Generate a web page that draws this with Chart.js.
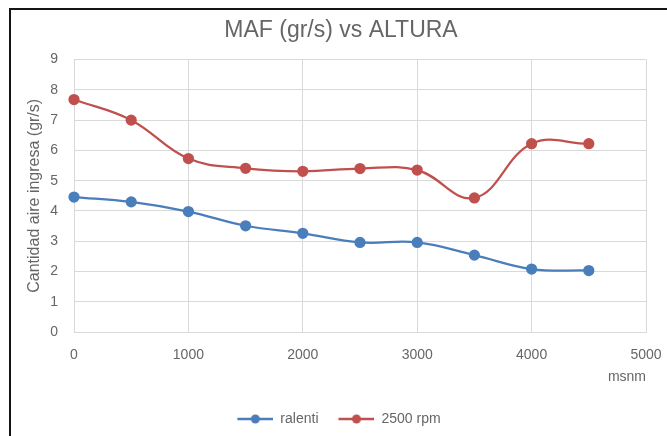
<!DOCTYPE html>
<html>
<head>
<meta charset="utf-8">
<script src="https://cdn.jsdelivr.net/npm/chart.js@4"></script>
<style>
  html, body { margin:0; padding:0; background:#fff; }
  #wrap { position:relative; width:667px; height:436px; }
  #frame { position:absolute; left:9px; top:8px; right:-4px; bottom:-4px; border-left:2px solid #151515; border-top:2px solid #151515; }
  #chart { position:absolute; left:0; top:0; }
</style>
</head>
<body>
<div id="wrap">
  <div id="frame"></div>
  <canvas id="chart" width="667" height="436"></canvas>
</div>
<script>
// --- DATOS ---
const altura = [0, 500, 1000, 1500, 2000, 2500, 3000, 3500, 4000, 4500];
const ralenti = [4.46, 4.30, 3.98, 3.51, 3.26, 2.96, 2.96, 2.54, 2.08, 2.03];
const rpm2500 = [7.68, 7.00, 5.73, 5.41, 5.31, 5.40, 5.35, 4.43, 6.22, 6.22];
const xTicks = [0, 1000, 2000, 3000, 4000, 5000];
const yTicks = [0, 1, 2, 3, 4, 5, 6, 7, 8, 9];

const BLUE = '#4a7ebb';
const RED = '#c0504d';
const TXT = '#666666';
const GRID = '#d9d9d9';
const FONT = 'Liberation Sans';

// icono de leyenda: linea + circulo (con margen transparente a la izquierda)
function legendIcon(color) {
  const c = document.createElement('canvas');
  c.width = 46; c.height = 10;
  const g = c.getContext('2d');
  g.strokeStyle = color; g.lineWidth = 2.5;
  g.beginPath(); g.moveTo(10, 5); g.lineTo(46, 5); g.stroke();
  g.fillStyle = color;
  g.beginPath(); g.arc(28, 5, 4.5, 0, Math.PI * 2); g.fill();
  return c;
}

// desplaza titulo y leyenda hacia la derecha como en el original
const shiftBoxes = {
  id: 'shiftBoxes',
  afterLayout(chart) {
    const mv = (box, dx) => { if (box) { box.left += dx; box.right += dx; } };
    mv(chart.titleBlock, 18);
    mv(chart.legend, 11);
  }
};

const toXY = (vals) => vals.map((v, i) => ({ x: altura[i], y: v }));

new Chart(document.getElementById('chart'), {
  type: 'line',
  data: {
    datasets: [
      { label: 'ralenti', data: toXY(ralenti), borderColor: BLUE, backgroundColor: BLUE, clip: false,
        borderWidth: 2.25, pointRadius: 4.5, pointHoverRadius: 4.5, tension: 0.4, icon: legendIcon(BLUE) },
      { label: '2500 rpm', data: toXY(rpm2500), borderColor: RED, backgroundColor: RED, clip: false,
        borderWidth: 2.25, pointRadius: 4.5, pointHoverRadius: 4.5, tension: 0.4, icon: legendIcon(RED) }
    ]
  },
  plugins: [shiftBoxes],
  options: {
    responsive: false,
    animation: false,
    layout: { padding: { left: 0, right: 21, top: 0, bottom: 0 } },
    plugins: {
      title: {
        display: true, text: 'MAF (gr/s) vs ALTURA', color: TXT,
        font: { family: FONT, size: 23, weight: 'normal' },
        padding: { top: 17, bottom: 15 }
      },
      legend: {
        position: 'bottom',
        labels: {
          color: TXT, font: { family: FONT, size: 14 },
          usePointStyle: true, pointStyleWidth: 46, padding: 10,
          generateLabels: (chart) => chart.data.datasets.map((ds, i) => ({
            text: ds.label, pointStyle: ds.icon, fillStyle: ds.borderColor,
            strokeStyle: ds.borderColor, lineWidth: 0, datasetIndex: i, fontColor: TXT
          }))
        }
      },
      tooltip: { enabled: false }
    },
    scales: {
      x: {
        type: 'linear', min: 0, max: 5000,
        afterBuildTicks: (s) => { s.ticks = xTicks.map(v => ({ value: v })); },
        afterFit: (s) => { s.height = 70; s.paddingLeft = 0; s.paddingRight = 0; },
        grid: { color: GRID, drawTicks: false },
        border: { color: GRID },
        ticks: { color: TXT, font: { family: FONT, size: 14 }, padding: 15, maxRotation: 0,
          callback: (v) => String(v) },
        title: { display: true, text: 'msnm', align: 'end', color: TXT,
          font: { family: FONT, size: 14 }, padding: { top: 4, bottom: 16 } }
      },
      y: {
        min: 0, max: 9,
        afterBuildTicks: (s) => { s.ticks = yTicks.map(v => ({ value: v })); },
        afterFit: (s) => { s.width = 74; },
        grid: { color: GRID, drawTicks: false },
        border: { color: GRID },
        ticks: { color: TXT, font: { family: FONT, size: 14 }, padding: 16 },
        title: { display: true, text: 'Cantidad aire ingresa (gr/s)', color: TXT,
          font: { family: FONT, size: 16 }, padding: { top: 25, bottom: 4 } }
      }
    }
  }
});
</script>
</body>
</html>
